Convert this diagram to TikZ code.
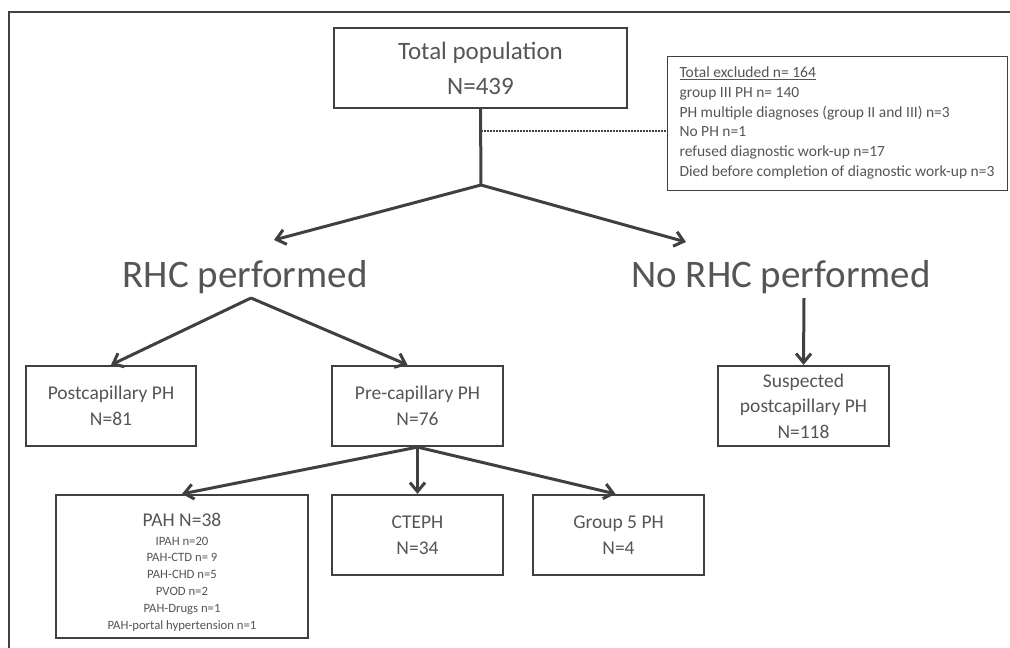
\documentclass[tikz,border=0pt]{standalone}
\usepackage{fontspec}
\setmainfont{Carlito}
\usetikzlibrary{arrows.meta}
\definecolor{lc}{HTML}{404040}
\definecolor{tc}{HTML}{555555}
\begin{document}
\begin{tikzpicture}[x=1pt,y=-1pt,
  box/.style={draw=lc, line width=2.2pt, text=tc, align=center, inner sep=0pt},
  exbox/.style={draw=lc, line width=1pt, text=tc, align=left, inner sep=0pt},
  midfont/.style={font=\fontsize{19.5}{25.5}\selectfont},
  bigfont/.style={font=\fontsize{39}{44}\selectfont, text=tc},
  conn/.style={draw=lc, line width=3pt},
  arr/.style={draw=lc, line width=3pt, -{Straight Barb[length=9pt,width=15pt]}},
  dotline/.style={draw=lc, line width=2pt, dash pattern=on 1.6pt off 1.4pt}]
\useasboundingbox (0,0) rectangle (1010,648);
\draw[lc, line width=2pt] (9,648) -- (9,12) -- (1010,12);

\node[box, minimum width=293pt, minimum height=80pt, font=\fontsize{25}{35}\selectfont] (tot) at (480.5,68) {Total population\\N=439};
\node[exbox, minimum width=340pt, minimum height=134pt, font=\fontsize{15.5}{19.8}\selectfont] (excl) at (837,123) {\underline{Total excluded n= 164}\\group III PH n= 140\\PH multiple diagnoses (group II and III) n=3\\No PH n=1\\refused diagnostic work-up n=17\\Died before completion of diagnostic work-up n=3};

\node[bigfont, anchor=base] (rhc) at (245,287) {RHC performed};
\node[bigfont, anchor=base] (norhc) at (781,287) {No RHC performed};

\node[box, midfont, minimum width=170pt, minimum height=80pt] (post) at (111,406) {Postcapillary PH\\N=81};
\node[box, midfont, minimum width=171pt, minimum height=80pt] (pre) at (417.5,406) {Pre-capillary PH\\N=76};
\node[box, midfont, minimum width=171pt, minimum height=80pt] (susp) at (803.5,406) {Suspected\\postcapillary PH\\N=118};

\node[box, minimum width=252pt, minimum height=143pt, font=\fontsize{12.7}{16.8}\selectfont] (pah) at (182,566.5) {{\fontsize{19.5}{22}\selectfont\rule{0pt}{25pt}PAH N=38}\\[1.5pt]IPAH n=20\\PAH-CTD n= 9\\PAH-CHD n=5\\PVOD n=2\\PAH-Drugs n=1\\PAH-portal hypertension n=1};
\node[box, midfont, minimum width=171pt, minimum height=80pt] (cteph) at (417.5,535) {CTEPH\\N=34};
\node[box, midfont, minimum width=171pt, minimum height=80pt] (g5) at (618.5,535) {Group 5 PH\\N=4};

\coordinate (j1) at (481,185);
\coordinate (rhcT) at (274,240);
\coordinate (norhcT) at (686,242);
\coordinate (j2) at (251,298);
\coordinate (j3) at (804,298);
\coordinate (dj) at (481,131);

\draw[conn] (tot.south) -- (j1);
\draw[arr] (j1) -- (rhcT);
\draw[arr] (j1) -- (norhcT);
\draw[dotline] (dj) -- (dj -| excl.west);
\draw[arr] (j2) -- (post.north);
\draw[arr] (j2) -- ([xshift=-10pt]pre.north);
\draw[arr] (j3) -- (susp.north);
\draw[arr] (pre.south) -- (pah.north);
\draw[arr] (pre.south) -- (cteph.north);
\draw[arr] (pre.south) -- ([xshift=-3pt]g5.north);
\end{tikzpicture}
\end{document}
